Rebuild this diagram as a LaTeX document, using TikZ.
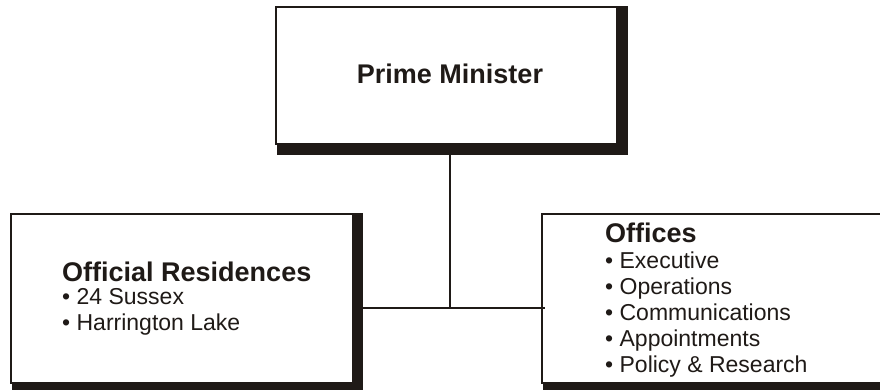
\documentclass[tikz,border=0pt]{standalone}
\usepackage{fontspec}
\setmainfont{Liberation Sans}
\definecolor{ink}{HTML}{1F1A17}
\tikzset{
  box/.style={draw=ink, line width=2pt, fill=white, rectangle, inner sep=0pt, anchor=north west},
  shadowfill/.style={fill=ink},
  head/.style={anchor=base west, font=\fontsize{27}{31}\selectfont\bfseries, text=ink, inner sep=0pt},
  item/.style={anchor=base west, font=\fontsize{23}{27}\selectfont, text=ink, inner sep=0pt},
  link/.style={draw=ink, line width=2.5pt},
}
\begin{document}
\begin{tikzpicture}[x=1pt,y=-1pt]
\useasboundingbox (0,0) rectangle (880,389);
\clip (0,0) rectangle (880,389);
% shadows
\path[shadowfill] (277,6) rectangle (628,155);
\path[shadowfill] (12,213) rectangle (363,395);
\path[shadowfill] (543,213) rectangle (915,395);
% boxes
\node[box, minimum width=341pt, minimum height=137pt] (pm) at (275,6) {};
\node[box, minimum width=342pt, minimum height=169pt] (res) at (10,213) {};
\node[box, minimum width=360pt, minimum height=169pt] (off) at (541,213) {};
% connectors
\coordinate (j) at (450,308);
\draw[link] (pm.south -| j) -- (j);
\draw[link] (res.east |- j) -- ([xshift=4pt]off.west |- j);
% texts
\node[head, anchor=base] (pmt) at (450,83) {Prime Minister};
\node[head] (rest) at (62,281) {Official Residences};
\node[item] (r1) at (62,304) {• 24 Sussex};
\node[item] (r2) at (62,330) {• Harrington Lake};
\node[head] (offt) at (605,242) {Offices};
\node[item] (o1) at (605,268) {• Executive};
\node[item] (o2) at (605,294) {• Operations};
\node[item] (o3) at (605,320) {• Communications};
\node[item] (o4) at (605,346) {• Appointments};
\node[item] (o5) at (605,372) {• Policy \& Research};
\end{tikzpicture}
\end{document}
